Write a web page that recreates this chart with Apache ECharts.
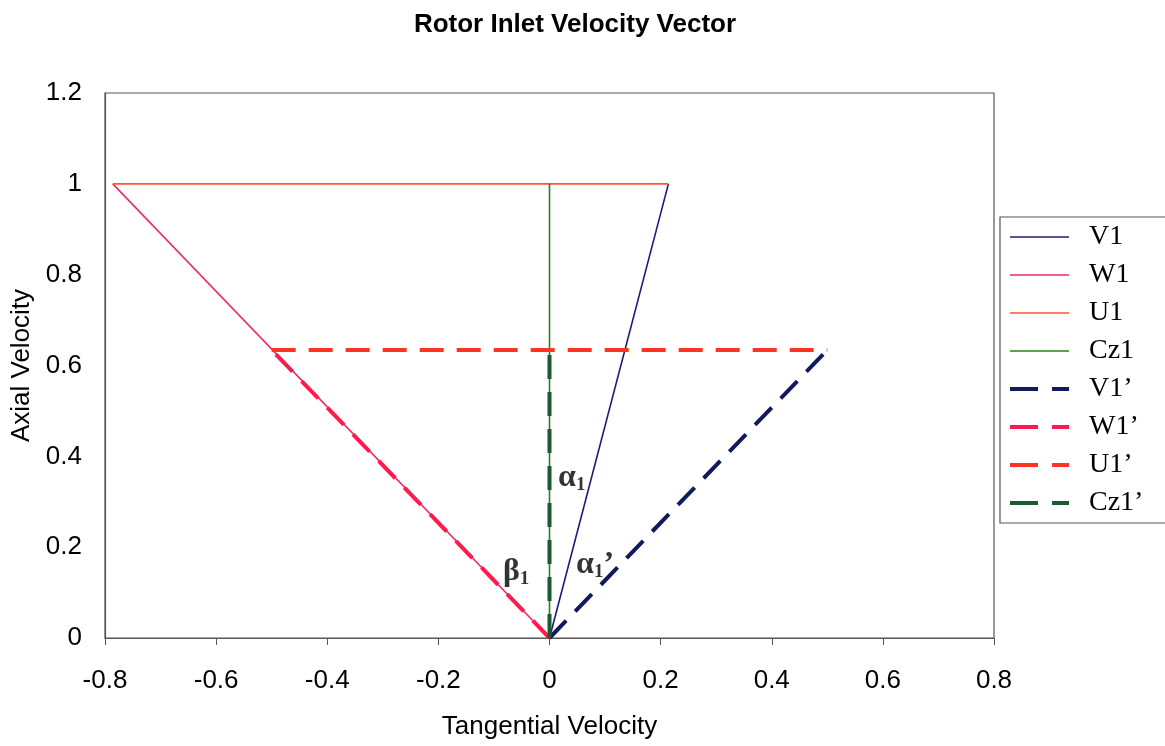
<!DOCTYPE html>
<html>
<head>
<meta charset="utf-8">
<script src="https://cdn.jsdelivr.net/npm/echarts@6/dist/echarts.min.js"></script>
<style>
  html, body { margin: 0; padding: 0; background: #fff; }
  #chart { width: 1165px; height: 746px; }
</style>
</head>
<body>
<div id="chart"></div>
<script>
// Velocity triangle end points [tangential, axial]
const V1  = [[0, 0], [0.214, 1]];
const W1  = [[0, 0], [-0.786, 1]];
const U1  = [[-0.786, 1], [0.214, 1]];
const Cz1 = [[0, 0], [0, 1]];
const V1p  = [[0, 0], [0.5, 0.634]];
const W1p  = [[0, 0], [-0.5, 0.634]];
const U1p  = [[-0.5, 0.634], [0.5, 0.634]];
const Cz1p = [[0, 0], [0, 0.634]];

const seriesNames = ['V1', 'W1', 'U1', 'Cz1', 'V1\u2019', 'W1\u2019', 'U1\u2019', 'Cz1\u2019'];
const xTicks = { min: -0.8, max: 0.8, interval: 0.2 };
const yTicks = { min: 0, max: 1.2, interval: 0.2 };

// Angle annotations placed in data coordinates
const angleLabels = [
  [0.04, 0.352, 'a1'],
  [0.082, 0.161, 'a1p'],
  [-0.06, 0.145, 'b1']
];

const colors = {
  V1: '#1c1c78', W1: '#ee2a64', U1: '#ff5533', Cz1: '#2e7d1e',
  V1p: '#101a5c', W1p: '#ff1a4d', U1p: '#ff3322', Cz1p: '#1b5a32'
};

const chart = echarts.init(document.getElementById('chart'), null, { renderer: 'canvas' });

function solid(name, data, color) {
  return {
    name, type: 'line', data, symbol: 'none', animation: false,
    lineStyle: { color, width: 1.6 }, itemStyle: { color }
  };
}
function dashed(name, data, color) {
  return {
    name, type: 'line', data, symbol: 'none', animation: false,
    lineStyle: { color, width: 4, type: [24, 13] }, itemStyle: { color }
  };
}

const legendColors = [colors.V1, colors.W1, colors.U1, colors.Cz1, colors.V1p, colors.W1p, colors.U1p, colors.Cz1p];
const legendData = seriesNames.map((name, i) => ({
  name,
  itemStyle: { opacity: 0 },
  lineStyle: i < 4
    ? { color: legendColors[i], width: 1.6, type: 'solid' }
    : { color: legendColors[i], width: 4, type: [28, 14] }
}));

const greek = {
  g: { fontFamily: 'Liberation Serif', fontWeight: 'bold', fontSize: 32, color: '#000' },
  s: { fontFamily: 'Liberation Serif', fontWeight: 'bold', fontSize: 19, color: '#000', verticalAlign: 'bottom', padding: [14, 0, 0, 0] }
};
const labelText = {
  a1: '{g|\u03b1}{s|1}',
  a1p: '{g|\u03b1}{s|1}{g|\u2019}',
  b1: '{g|\u03b2}{s|1}'
};

chart.setOption({
  backgroundColor: '#fff',
  animation: false,
  title: {
    text: 'Rotor Inlet Velocity Vector',
    left: 570, top: 7, textAlign: 'center',
    textStyle: { fontFamily: 'Liberation Sans', fontWeight: 'bold', fontSize: 26, color: '#000' }
  },
  grid: {
    left: 105, top: 93, right: 171, bottom: 108,
    show: true, borderColor: '#555', borderWidth: 1.2, backgroundColor: 'transparent'
  },
  legend: {
    data: legendData,
    orient: 'vertical',
    left: 1000, top: 217,
    itemWidth: 59, itemHeight: 14, itemGap: 8,
    padding: [5, 80, 5, 8],
    borderColor: '#555', borderWidth: 1.2,
    textStyle: { fontFamily: 'Liberation Serif', fontSize: 28, lineHeight: 30, color: '#000', padding: [0, 0, 0, 15] }
  },
  xAxis: {
    type: 'value',
    min: xTicks.min, max: xTicks.max, interval: xTicks.interval,
    name: 'Tangential Velocity', nameLocation: 'middle', nameGap: 76,
    nameTextStyle: { fontFamily: 'Liberation Sans', fontSize: 26, color: '#000' },
    axisLine: { show: true, onZero: false, lineStyle: { color: '#555', width: 1.2 } },
    axisTick: { show: true, inside: false, length: 7, lineStyle: { color: '#555' } },
    axisLabel: { fontFamily: 'Liberation Sans', fontSize: 26, color: '#000', margin: 30 },
    splitLine: { show: false }
  },
  yAxis: {
    type: 'value',
    min: yTicks.min, max: yTicks.max, interval: yTicks.interval,
    name: 'Axial Velocity', nameLocation: 'middle', nameGap: 70, nameRotate: 90,
    nameTextStyle: { fontFamily: 'Liberation Sans', fontSize: 26, color: '#000' },
    axisLine: { show: true, onZero: false, lineStyle: { color: '#555', width: 1.2 } },
    axisTick: { show: false },
    axisLabel: { fontFamily: 'Liberation Sans', fontSize: 26, color: '#000', margin: 23 },
    splitLine: { show: false }
  },
  series: [
    solid(seriesNames[0], V1, colors.V1),
    solid(seriesNames[1], W1, colors.W1),
    solid(seriesNames[2], U1, colors.U1),
    solid(seriesNames[3], Cz1, colors.Cz1),
    dashed(seriesNames[4], V1p, colors.V1p),
    dashed(seriesNames[5], W1p, colors.W1p),
    dashed(seriesNames[6], U1p, colors.U1p),
    dashed(seriesNames[7], Cz1p, colors.Cz1p),
    {
      name: 'angles', type: 'scatter', symbolSize: 0, silent: true, z: 10,
      data: angleLabels,
      label: {
        show: true, position: 'inside',
        formatter: p => labelText[p.data[2]],
        rich: greek
      }
    }
  ]
});
</script>
</body>
</html>
